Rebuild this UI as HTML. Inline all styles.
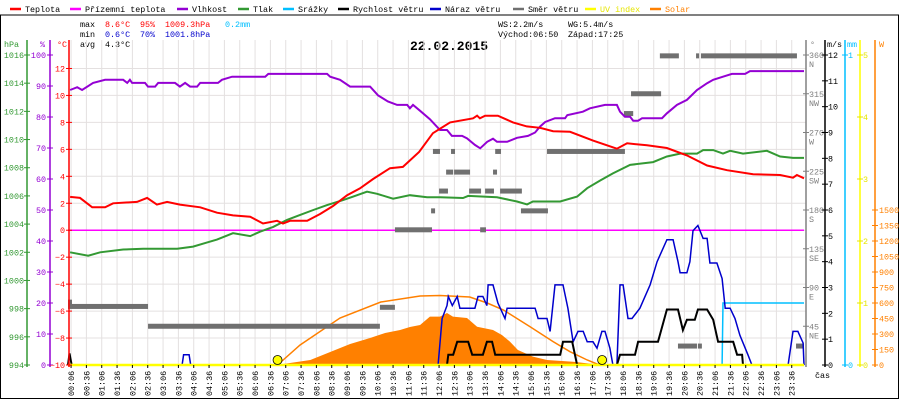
<!DOCTYPE html>
<html><head><meta charset="utf-8">
<style>
html,body{margin:0;padding:0;background:#fff;}
svg{display:block;}
text{font-family:"Liberation Mono",monospace;font-size:8.4px;}
</style></head>
<body>
<svg id="chart" width="900" height="400" viewBox="0 0 900 400" xmlns="http://www.w3.org/2000/svg">
<rect x="0" y="0" width="900" height="400" fill="#fff"/>
<g id="legend"></g>
<line x1="0" y1="15" x2="899" y2="15" stroke="#000" stroke-width="1"/>
<line x1="0.5" y1="15" x2="0.5" y2="399" stroke="#000" stroke-width="1"/>
<line x1="898.5" y1="15" x2="898.5" y2="399" stroke="#000" stroke-width="1"/>
<line x1="0" y1="398.5" x2="899" y2="398.5" stroke="#000" stroke-width="1"/>
<g>
<text x="80" y="27">max</text><text x="105" y="27" fill="#f00">8.6°C</text><text x="140" y="27" fill="#f00">95%</text><text x="165" y="27" fill="#f00">1009.3hPa</text><text x="225" y="27" fill="#00bfff">0.2mm</text>
<text x="80" y="37">min</text><text x="105" y="37" fill="#00c">0.6°C</text><text x="140" y="37" fill="#00c">70%</text><text x="165" y="37" fill="#00c">1001.8hPa</text>
<text x="80" y="47">avg</text><text x="105" y="47">4.3°C</text>
<text x="498" y="27">WS:2.2m/s</text><text x="568" y="27">WG:5.4m/s</text>
<text x="498" y="37">Východ:06:50</text><text x="568" y="37">Západ:17:25</text>
</g>
<text x="449" y="50" text-anchor="middle" style="font-family:'Liberation Mono',monospace;font-weight:bold;font-size:13px;">22.02.2015</text>
<g id="grid"></g>
<g id="series"></g>
<g id="axes"></g>
</svg>
<script>
// ---- data ----
const tempHours=[0.07,0.39,0.79,1.21,1.47,2.25,2.58,2.9,3.23,3.65,4.31,4.86,5.38,5.94,6.36,6.82,7.01,7.24,7.8,8.22,8.64,9.1,9.52,9.95,10.5,10.92,11.45,11.9,12.46,13.21,13.34,13.43,13.6,14.02,14.51,14.96,15.39,15.82,16.37,17.12,17.9,18.23,18.88,19.53,20.18,20.84,21.49,22.34,23.22,23.64,23.77,24];
const tempValues=[2.47,2.4,1.7,1.7,2.0,2.1,2.4,1.9,2.1,1.9,1.7,1.3,1.1,1.0,0.5,0.7,0.5,0.7,0.7,1.2,1.8,2.6,3.1,3.8,4.6,4.7,5.8,7.2,8.0,8.3,8.5,8.3,8.5,8.5,8.0,7.7,7.6,7.35,7.3,6.65,6.05,6.45,6.3,6.1,5.55,4.8,4.45,4.15,4.1,3.9,4.1,3.85];
const groundHours=[0,24];
const groundValues=[0,0];
const humHours=[0.07,0.3,0.46,0.82,1.21,1.8,1.93,2.02,2.09,2.51,2.61,2.84,2.94,3.49,3.65,3.82,3.98,4.21,4.31,4.89,5.02,5.35,6.43,6.53,8.45,8.55,8.87,9.2,9.85,10.11,10.43,10.73,11.06,11.15,11.25,11.48,11.8,12.13,12.36,12.52,12.85,13.01,13.27,13.44,13.67,13.86,13.99,14.32,14.64,15.0,15.23,15.39,15.56,15.88,16.21,16.28,16.79,17.02,17.51,17.9,18.0,18.16,18.33,18.43,18.59,18.72,19.37,19.53,19.86,20.18,20.51,20.84,21.04,21.36,21.65,22.08,22.24,24];
const humValues=[88.7,89.6,88.7,91,92,92,91,92,91,91,89.8,89.8,91,91,89.8,91,89.8,89.8,91,91,92,93,93,93.9,93.9,93,92,89.8,89.8,87,85,83.9,83.9,82.8,83.9,82,79.3,75.8,75.8,73.9,73.9,73.1,71,69.9,72,73,72,72,73.3,73.9,75,76.9,78.4,79.6,79.6,80.6,81.7,82.8,83.9,83.9,81.7,80.1,80.1,78.8,78.8,79.6,79.6,81.2,83.9,85.5,88.7,90.9,92,93,93.9,93.9,94.8,94.8];
const presHours=[0.07,0.66,1.05,1.8,2.45,3.56,4.08,4.54,4.86,5.38,5.94,6.26,6.69,7.14,7.57,8.0,8.45,8.97,9.3,9.75,10.08,10.6,11.15,11.71,12.13,12.88,13.05,13.99,14.64,14.97,15.16,16.05,16.6,16.93,17.36,17.77,18.33,19.08,19.53,19.96,20.51,20.71,21.04,21.36,21.59,22.01,22.79,23.22,23.64,24];
const presValues=[1002,1001.76,1002,1002.2,1002.25,1002.25,1002.4,1002.7,1002.9,1003.35,1003.15,1003.46,1003.8,1004.3,1004.65,1005,1005.35,1005.7,1005.95,1006.3,1006.15,1005.8,1006.05,1005.9,1005.9,1005.85,1006,1005.9,1005.6,1005.4,1005.6,1005.6,1005.95,1006.55,1007.1,1007.6,1008.2,1008.4,1008.8,1009,1009,1009.25,1009.25,1009,1009.2,1009,1009.2,1008.8,1008.7,1008.7];
const rainHours=[0,21.33,21.36,24];
const rainValues=[0,0,0.2,0.2];
const windHours=[0,0.05,0.12,12.36,12.4,12.56,12.69,13.05,13.18,13.53,13.66,13.83,13.93,16.05,16.14,16.44,16.6,17.9,18.0,18.49,18.59,19.24,19.53,19.89,20.05,20.18,20.44,20.54,20.84,21.04,21.2,21.69,21.82,21.98,22.01,24];
const windValues=[0,0.45,0,0,0.4,0.4,0.9,0.9,0.4,0.4,0.9,0.9,0.4,0.4,0.9,0.9,0,0,0.4,0.4,0.9,0.9,2.15,2.15,1.35,1.75,1.75,2.15,2.15,1.75,0.9,0.9,0.4,0.4,0,0];
const gustHours=[0,3.72,3.77,3.95,4.0,12.07,12.2,12.36,12.4,12.53,12.69,12.78,13.27,13.37,13.53,13.66,13.7,13.86,14.02,14.25,14.32,15.23,15.33,15.62,15.72,15.88,16.14,16.3,16.47,16.63,16.8,16.93,17.12,17.25,17.41,17.51,17.67,17.77,17.9,18.0,18.1,18.26,18.39,18.65,18.98,19.21,19.53,19.73,19.89,19.96,20.18,20.28,20.38,20.54,20.71,20.84,20.93,21.16,21.33,21.43,21.59,21.75,21.91,22.17,22.3,23.48,23.64,23.8,23.97,24];
const gustValues=[0,0,0.4,0.4,0,0,1.8,2.3,2.65,2.3,2.65,2.2,2.2,2.65,2.65,2.3,3.1,3.1,2.4,1.8,2.2,2.2,1.8,1.8,1.3,3.1,3.1,2.2,0.9,1.3,1.3,0.9,0.9,0.65,1.3,1.3,0.65,0,0,3.1,3.1,1.8,1.8,2.2,3.1,4.0,4.85,4.85,4.0,3.57,3.57,4.0,5.2,5.4,4.9,4.9,3.95,3.95,3.35,2.2,2.2,1.8,1.15,0.4,0,0,1.3,1.3,0.85,0];
const dirStart=[0,0,2.61,10.17,10.66,11.9,11.84,12.1,12.33,12.49,12.59,13.08,13.44,13.6,13.86,13.93,14.09,14.77,15.62,18.13,18.36,19.3,19.89,20.48,20.54,20.64,23.74];
const dirEnd=[2.61,0.13,10.17,10.66,11.87,12.13,11.97,12.39,12.56,12.62,13.11,13.47,13.63,13.89,13.99,14.12,14.8,15.65,18.16,18.43,19.34,19.92,20.51,20.58,20.67,23.77,24];
const dirDeg=[68,73,45,67,157,248,179,202,224,248,224,202,157,202,224,248,202,179,248,292,315,359,22,359,22,359,22];
const uvHours=[0,24];
const uvValues=[0,0];
const solarHours=[6.79,7.24,7.9,8.55,9.2,9.85,10.34,10.83,11.15,11.48,11.8,12.13,12.36,12.55,13.01,13.34,13.86,14.15,14.41,14.67,15.16,15.62,16.47,17.12,17.34];
const solarValues=[0,19,48,126,203,261,310,339,368,387,468,468,503,468,455,371,339,290,226,145,81,48,32,10,0];
const solarMaxHours=[6.83,7.57,8.87,10.2,11.48,12.13,13.1,13.67,14.2,15.07,15.82,16.37,16.93,17.25,17.42];
const solarMaxValues=[0,194,455,610,668,673,658,600,532,371,226,129,48,10,0];
const sunEvents=[6.833,17.417];
const timeLabels=["00:06","00:36","01:06","01:36","02:06","02:36","03:06","03:36","04:06","04:36","05:06","05:36","06:06","06:36","07:06","07:36","08:06","08:36","09:06","09:36","10:06","10:36","11:06","11:36","12:06","12:36","13:06","13:36","14:06","14:36","15:06","15:36","16:06","16:36","17:06","17:36","18:06","18:36","19:06","19:36","20:06","20:36","21:06","21:36","22:06","22:36","23:06","23:36"];
const hpaTicks=[994,996,998,1000,1002,1004,1006,1008,1010,1012,1014,1016];
const pctTicks=[0,10,20,30,40,50,60,70,80,90,100];
const tempTicks=[-10,-8,-6,-4,-2,0,2,4,6,8,10,12];
const degTicks=[45,90,135,180,225,270,315,360];
const degNames=["NE","E","SE","S","SW","W","NW","N"];
const msTicks=[0,1,2,3,4,5,6,7,8,9,10,11,12];
const mmTicks=[0,1];
const uvTicks=[0,1,2,3,4,5];
const wTicks=[0,150,300,450,600,750,900,1050,1200,1350,1500];
const legendNames=["Teplota","Přízemní teplota","Vlhkost","Tlak","Srážky","Rychlost větru","Náraz větru","Směr větru","UV index","Solar"];
const legendColors=["#f00","#f0f","#9400d3","#339933","#00bfff","#000","#0000cc","#707070","#ffff00","#ff8000"];
const legendX=[10,70,177,238,283,338,430,513,585,650];

// ---- scales ----
const TOP=55,BOT=365,L=68,R=804;
const xH=h=>L+h*(R-L)/24;
const yT=v=>BOT-(v+10)*(BOT-TOP)/23;
const yP=v=>BOT-(v-994)*(BOT-TOP)/22;
const yH=v=>BOT-v*(BOT-TOP)/100;
const yD=v=>BOT-v*(BOT-TOP)/360;
const yW=v=>BOT-v*(BOT-TOP)/12;
const yR=v=>BOT-v*(BOT-TOP)/1;
const yU=v=>BOT-v*(BOT-TOP)/5;
const ySol=v=>BOT-v*(BOT-210)/1500;

const NS="http://www.w3.org/2000/svg";
function mk(tag,attrs,parent){const e=document.createElementNS(NS,tag);for(const k in attrs)e.setAttribute(k,attrs[k]);parent.appendChild(e);return e;}
const gGrid=document.getElementById('grid'),gS=document.getElementById('series'),gA=document.getElementById('axes'),gL=document.getElementById('legend');

// legend
legendNames.forEach((n,i)=>{
  const d=mk('line',{x1:legendX[i],y1:9,x2:legendX[i]+11,y2:9,stroke:legendColors[i],'stroke-width':2.5},gL);
  
  
  const t=mk('text',{x:legendX[i]+15,y:12,fill:i==8?'#e6e600':(i==9?'#ff8000':'#000')},gL);
  t.textContent=n;
  
  
});

// grid
mk('rect',{x:L,y:TOP,width:R-L+2,height:BOT-TOP,fill:'#fff'},gGrid);
timeLabels.forEach((s,i)=>{
  const x=xH((6+i*30)/60);
  const l=mk('line',{x1:x,y1:40,x2:x,y2:BOT,stroke:'#e4e0e0','stroke-width':1},gGrid);
  
  
  mk('line',{x1:x,y1:BOT,x2:x,y2:BOT+3,stroke:'#000','stroke-width':1},gA);
  const t=mk('text',{x:0,y:0,transform:`translate(${x+3},396) rotate(-90)`},gA);
  t.textContent=s;
  
  
});
tempTicks.forEach(v=>{
  const y=yT(v);
  const l=mk('line',{x1:L,y1:y,x2:R+2,y2:y,stroke:'#e4e0e0','stroke-width':1},gGrid);
  
  
});

function line(hs,vs,ys,color,w,name){
  const p=hs.map((h,i)=>xH(h).toFixed(1)+','+ys(vs[i]).toFixed(1)).join(' ');
  const e=mk('polyline',{points:p,fill:'none',stroke:color,'stroke-width':w,'stroke-linejoin':'miter'},gS);
  
  
  return e;
}
// solar fill
{
  const p=[xH(solarHours[0])+','+BOT].concat(solarHours.map((h,i)=>xH(h).toFixed(1)+','+ySol(solarValues[i]).toFixed(1))).concat([xH(solarHours[solarHours.length-1])+','+BOT]).join(' ');
  const e=mk('polygon',{points:p,fill:'#ff8000'},gS);
  
  
}
line(solarMaxHours,solarMaxValues,ySol,'#ff8000',1.5,'solar-theoretical-line');
line(groundHours,groundValues,yT,'#f0f',1.5,'ground-temperature-line');
dirStart.forEach((s,i)=>{
  const e=mk('rect',{x:xH(s),y:yD(dirDeg[i])-2.5,width:Math.max(2,xH(dirEnd[i])-xH(s)),height:5,fill:'#707070'},gS);
  
  
});
line(presHours,presValues,yP,'#339933',2,'pressure-line');
line(humHours,humValues,yH,'#9400d3',2,'humidity-line');
line(tempHours,tempValues,yT,'#f00',2,'temperature-line');
line(rainHours,rainValues,yR,'#00bfff',1.5,'rain-line');
line(gustHours,gustValues,yW,'#0000cc',1.5,'wind-gust-line');
line(windHours,windValues,yW,'#000',2,'wind-speed-line');
line(uvHours,uvValues,yU,'#ffff00',2.5,'uv-line');
sunEvents.forEach(h=>{
  const c=mk('circle',{cx:xH(h),cy:BOT-5,r:4.5,fill:'#ffff00',stroke:'#000','stroke-width':0.8},gS);
  
  
});

// axes
function vaxis(x,color,y1,y2){mk('line',{x1:x,y1:y1,x2:x,y2:y2,stroke:color,'stroke-width':1.5},gA);}
function tick(x,y,color,label,lx,anchor,name){
  mk('line',{x1:x-3,y1:y,x2:x+3,y2:y,stroke:color,'stroke-width':1},gA);
  const t=mk('text',{x:lx,y:y+3,fill:color,'text-anchor':anchor},gA);
  t.textContent=label;
  
  
}
vaxis(27,'#339933',40,BOT+2);
hpaTicks.forEach(v=>tick(27,yP(v),'#339933',v,24,'end','hpa-tick-label'));
vaxis(50,'#9400d3',40,BOT+2);
pctTicks.forEach(v=>tick(50,yH(v),'#9400d3',v,46,'end','humidity-tick-label'));
vaxis(69,'#f00',40,BOT+2);
tempTicks.forEach(v=>tick(69,yT(v),'#f00',v<0?'−'+(-v):v,65,'end','temp-tick-label'));
vaxis(806,'#808080',40,BOT+2);
degTicks.forEach((v,i)=>{
  tick(806,yD(v),'#808080',v,809,'start','direction-tick-label');
  const t=mk('text',{x:809,y:yD(v)+12,fill:'#808080'},gA);t.textContent=degNames[i];
  
  
});
vaxis(825,'#000',40,BOT+2);
msTicks.forEach(v=>tick(825,yW(v),'#000',v,828,'start','wind-tick-label'));
vaxis(845,'#00bfff',40,BOT+2);
mmTicks.forEach(v=>tick(845,yR(v),'#00bfff',v,848,'start','rain-tick-label'));
vaxis(860,'#ffff00',40,BOT+2);
uvTicks.forEach(v=>tick(860,yU(v),'#e6e600',v,863,'start','uv-tick-label'));
vaxis(875,'#ff8000',40,BOT+2);
wTicks.forEach(v=>{const y=ySol(v);mk('line',{x1:872,y1:y,x2:878,y2:y,stroke:'#ff8000'},gA);const t=mk('text',{x:879,y:y+3,fill:'#ff8000'},gA);t.textContent=v;
  
  });
[["hPa",4,'#339933'],["%",40,'#9400d3'],["°C",57,'#f00'],["°",810,'#808080'],["m/s",827,'#000'],["mm",847,'#00bfff'],["W",879,'#ff8000']].forEach(a=>{
  const t=mk('text',{x:a[1],y:47,fill:a[2]},gA);t.textContent=a[0];
  
  
});
{const t=mk('text',{x:815,y:378},gA);t.textContent='čas';

}
</script>
</body></html>
